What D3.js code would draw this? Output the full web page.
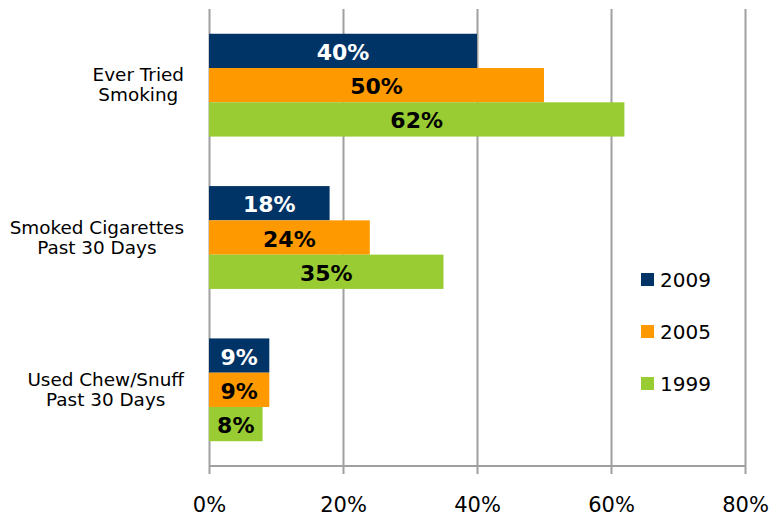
<!DOCTYPE html>
<html>
<head>
<meta charset="utf-8">
<script src="https://cdn.jsdelivr.net/npm/d3@7"></script>
<style>
  html, body { margin: 0; padding: 0; background: #fff; }
  svg { display: block; font-family: "DejaVu Sans", Verdana, sans-serif; }
</style>
</head>
<body>
<svg id="chart" width="779" height="516"></svg>
<script>
// Survey measures, one row per behaviour
const categories = [
  ["Ever Tried", "Smoking"],
  ["Smoked Cigarettes", "Past 30 Days"],
  ["Used Chew/Snuff", "Past 30 Days"]
];
const years = ["2009", "2005", "1999"];
const values2009 = [40, 18, 9];
const values2005 = [50, 24, 9];
const values1999 = [62, 35, 8];
const xTicks = [0, 20, 40, 60, 80];
const colors = ["#003366", "#ff9900", "#99cc33"];
const labelColors = ["#ffffff", "#000000", "#000000"];

const series = [values2009, values2005, values1999];

const svg = d3.select("#chart");
const plot = { left: 209, right: 745, top: 9, bottom: 466 };

const x = d3.scaleLinear().domain([0, 80]).range([plot.left, plot.right]);
const y = d3.scaleBand().domain(d3.range(categories.length))
  .range([plot.top, plot.bottom]).paddingInner(0.325).paddingOuter(0.1625);
const ySub = d3.scaleBand().domain(d3.range(years.length))
  .range([0, y.bandwidth()]);

// Vertical gridlines with ticks below the baseline
const xAxis = d3.axisBottom(x).tickValues(xTicks)
  .tickSize(plot.bottom - plot.top + 8).tickFormat(d => d + "%").tickPadding(23);
const gx = svg.append("g")
  .attr("transform", `translate(0,${plot.top})`)
  .call(xAxis);
gx.select(".domain").remove();
gx.selectAll(".tick line").attr("stroke", "#a0a0a0").attr("stroke-width", 2);
gx.selectAll(".tick text")
  .attr("font-size", 21).attr("fill", "#000")
  .attr("font-family", "'DejaVu Sans', Verdana, sans-serif");

// Baseline
svg.append("line")
  .attr("x1", plot.left).attr("x2", plot.right)
  .attr("y1", plot.bottom).attr("y2", plot.bottom)
  .attr("stroke", "#a0a0a0").attr("stroke-width", 2);

// Bars
series.forEach((vals, s) => {
  const g = svg.append("g");
  g.selectAll("rect").data(vals).join("rect")
    .attr("x", x(0))
    .attr("y", (d, i) => y(i) + ySub(s))
    .attr("width", d => x(d) - x(0))
    .attr("height", ySub.bandwidth())
    .attr("fill", colors[s]);
  g.selectAll("text").data(vals).join("text")
    .attr("x", d => (x(0) + x(d)) / 2)
    .attr("y", (d, i) => y(i) + ySub(s) + ySub.bandwidth() / 2 + 9)
    .attr("text-anchor", "middle")
    .attr("font-size", 22).attr("font-weight", "bold")
    .attr("fill", labelColors[s])
    .text(d => d + "%");
});

// Category labels: block right-aligned, lines centred within the block
const catG = svg.append("g");
categories.forEach((lines, i) => {
  const cy = y(i) + y.bandwidth() / 2;
  const t = catG.append("text")
    .attr("font-size", 18.4).attr("fill", "#000").attr("text-anchor", "middle");
  lines.forEach((ln, k) => {
    t.append("tspan").attr("x", 0).attr("y", cy - 4 + k * 20).text(ln);
  });
  const w = d3.max(t.selectAll("tspan").nodes(), n => n.getComputedTextLength());
  t.selectAll("tspan").attr("x", 184 - w / 2);
});

// Legend
const legend = svg.append("g");
years.forEach((yr, s) => {
  const ly = 287 + s * 52;
  legend.append("rect")
    .attr("x", 641).attr("y", ly - 14).attr("width", 13).attr("height", 13)
    .attr("fill", colors[s]);
  legend.append("text")
    .attr("x", 660).attr("y", ly)
    .attr("font-size", 20).attr("fill", "#000")
    .text(yr);
});
</script>
</body>
</html>
